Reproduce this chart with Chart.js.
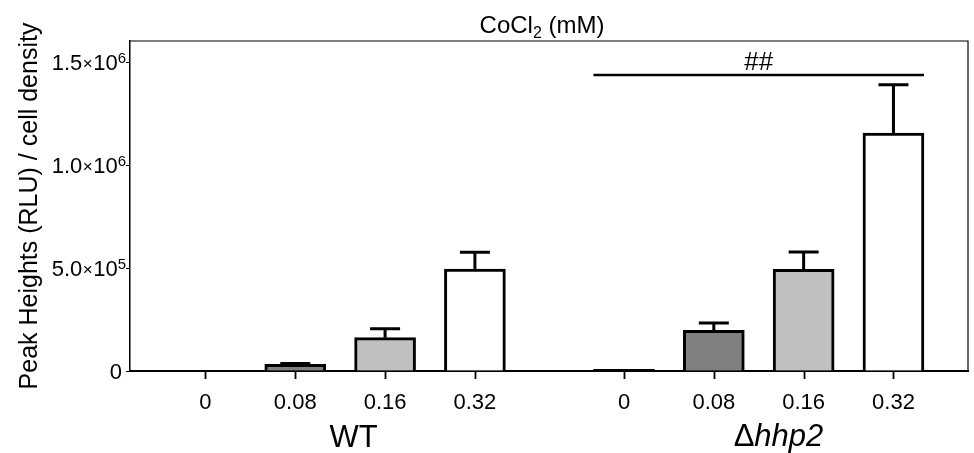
<!DOCTYPE html>
<html>
<head>
<meta charset="utf-8">
<script src="https://cdn.jsdelivr.net/npm/chart.js@4.4.0/dist/chart.umd.min.js"></script>
<style>
  html, body { margin: 0; padding: 0; background: #fff; }
  #wrap { width: 974px; height: 453px; }
</style>
</head>
<body>
<div id="wrap"><canvas id="chart" width="974" height="453"></canvas></div>
<script>
// data
const groups = ['WT', 'Δhhp2'];
const doses = ['0', '0.08', '0.16', '0.32'];
const wtMean = [0, 32000, 162000, 495000];
const wtErr = [0, 4000, 43000, 81000];
const hhp2Mean = [8000, 198000, 494000, 1155000];
const hhp2Err = [0, 35000, 84000, 235000];
const yTicks = [0, 500000, 1000000, 1500000];
const sigLabel = '##';
const sigLevel = 1437000;
const titleMain = 'CoCl';
const titleSub = '2';
const titleRest = ' (mM)';
const yTitle = 'Peak Heights (RLU) / cell density';

// styling
const FONT = "'Liberation Sans', Arial, Helvetica, sans-serif";
const doseColors = ['#000000', '#808080', '#c0c0c0', '#ffffff'];
const GROUP_STEP = 4.66;   // distance between the two groups, in bar slots
const LABEL_SHIFT = [0.15, 0.22];

const points = [];
[wtMean, hhp2Mean].forEach((arr, g) => {
    arr.forEach((v, i) => points.push({ x: g * GROUP_STEP + i, y: v }));
});
const errs = wtErr.concat(hhp2Err);
const tickPos = points.map(p => p.x);
const tickText = doses.concat(doses);
const barColors = doseColors.concat(doseColors);

const extras = {
    id: 'extras',
    afterDatasetsDraw(chart) {
        const ctx = chart.ctx;
        const y = chart.scales.y;
        const meta = chart.getDatasetMeta(0);
        ctx.save();
        ctx.strokeStyle = '#000';
        ctx.lineWidth = 3;
        meta.data.forEach((bar, i) => {
            if (!errs[i]) return;
            const top = y.getPixelForValue(points[i].y + errs[i]);
            ctx.beginPath();
            ctx.moveTo(bar.x, bar.y);
            ctx.lineTo(bar.x, top);
            ctx.moveTo(bar.x - 15, top);
            ctx.lineTo(bar.x + 15, top);
            ctx.stroke();
        });

        // significance bar over the hhp2 group
        const first = meta.data[4], last = meta.data[7];
        const x0 = first.x - first.width / 2;
        const x1 = last.x + last.width / 2;
        const sy = y.getPixelForValue(sigLevel);
        ctx.lineWidth = 2.5;
        ctx.beginPath();
        ctx.moveTo(x0, sy);
        ctx.lineTo(x1, sy);
        ctx.stroke();
        ctx.fillStyle = '#000';
        ctx.font = '26px ' + FONT;
        ctx.textAlign = 'center';
        ctx.textBaseline = 'alphabetic';
        ctx.fillText(sigLabel, (x0 + x1) / 2, sy - 5);
        ctx.restore();
    },
    afterDraw(chart) {
        const ctx = chart.ctx;
        const area = chart.chartArea;
        const x = chart.scales.x;
        const y = chart.scales.y;
        ctx.save();

        // frame top and right
        ctx.strokeStyle = '#000';
        ctx.lineWidth = 1.2;
        ctx.beginPath();
        ctx.moveTo(area.left, area.top);
        ctx.lineTo(area.right, area.top);
        ctx.lineTo(area.right, area.bottom);
        ctx.stroke();

        // x tick marks under each bar
        ctx.lineWidth = 1.8;
        ctx.beginPath();
        x.ticks.forEach(t => {
            const px = Math.round(x.getPixelForValue(t.value)) + 0.5;
            ctx.moveTo(px, area.bottom);
            ctx.lineTo(px, area.bottom + 8);
        });
        ctx.stroke();

        ctx.fillStyle = '#000';
        ctx.textBaseline = 'alphabetic';

        // y tick labels as a x 10^n
        y.ticks.forEach(t => {
            const py = y.getPixelForValue(t.value);
            let right = y.right - 4;
            if (t.value === 0) {
                ctx.font = '22px ' + FONT;
                ctx.textAlign = 'right';
                ctx.fillText('0', right - 4, py + 8);
                return;
            }
            const exp = Math.floor(Math.log10(t.value));
            const mant = (t.value / Math.pow(10, exp)).toFixed(1);
            ctx.textAlign = 'right';
            ctx.font = '15px ' + FONT;
            ctx.fillText(String(exp), right, py + 0.5);
            right -= ctx.measureText(String(exp)).width;
            ctx.font = '22px ' + FONT;
            ctx.fillText('10', right, py + 8);
            right -= ctx.measureText('10').width + 0.5;
            ctx.font = '17px ' + FONT;
            ctx.fillText('×', right, py + 6.5);
            right -= ctx.measureText('×').width + 0.5;
            ctx.font = '22px ' + FONT;
            ctx.fillText(mant, right, py + 8);
        });

        // top title with subscript
        ctx.textAlign = 'left';
        ctx.font = '24px ' + FONT;
        const w1 = ctx.measureText(titleMain).width;
        const w3 = ctx.measureText(titleRest).width;
        ctx.font = '16px ' + FONT;
        const w2 = ctx.measureText(titleSub).width;
        let tx = (area.left + area.right) / 2 - 7 - (w1 + w2 + w3) / 2;
        const tb = area.top - 8;
        ctx.font = '24px ' + FONT;
        ctx.fillText(titleMain, tx, tb);
        tx += w1;
        ctx.font = '16px ' + FONT;
        ctx.fillText(titleSub, tx, tb + 5);
        tx += w2;
        ctx.font = '24px ' + FONT;
        ctx.fillText(titleRest, tx, tb);

        // group labels
        groups.forEach((g, gi) => {
            const cx = x.getPixelForValue(gi * GROUP_STEP + 1.5 + LABEL_SHIFT[gi]);
            const by = area.bottom + 76;
            if (g.startsWith('Δ')) {
                ctx.font = '31px ' + FONT;
                const wa = ctx.measureText('Δ').width;
                ctx.font = 'italic 31px ' + FONT;
                const wb = ctx.measureText(g.slice(1)).width;
                let lx = cx - (wa + wb) / 2;
                ctx.textAlign = 'left';
                ctx.font = '31px ' + FONT;
                ctx.fillText('Δ', lx, by - 1);
                ctx.font = 'italic 31px ' + FONT;
                ctx.fillText(g.slice(1), lx + wa, by - 1);
            } else {
                ctx.textAlign = 'center';
                ctx.font = '31px ' + FONT;
                ctx.fillText(g, cx, by);
            }
        });
        ctx.restore();
    }
};

new Chart(document.getElementById('chart'), {
    type: 'bar',
    data: {
        datasets: [{
            data: points,
            backgroundColor: barColors,
            borderColor: '#000',
            borderWidth: 3,
            borderSkipped: 'start',
            barThickness: 61
        }]
    },
    options: {
        responsive: false,
        animation: false,
        layout: { padding: { top: 41, right: 6, left: 0, bottom: 0 } },
        plugins: {
            legend: { display: false },
            tooltip: { enabled: false },
            title: { display: false }
        },
        scales: {
            x: {
                type: 'linear',
                min: -0.84,
                max: 8.49,
                offset: false,
                afterBuildTicks: s => { s.ticks = tickPos.map(v => ({ value: v })); },
                afterFit: s => { s.height = 82; },
                grid: { display: false },
                border: { display: true, color: '#000', width: 2 },
                ticks: {
                    autoSkip: false, maxRotation: 0, padding: 11, color: '#000',
                    font: { family: FONT, size: 22 },
                    callback: (v, i) => tickText[i]
                }
            },
            y: {
                min: 0,
                max: 1602000,
                afterBuildTicks: s => { s.ticks = yTicks.map(v => ({ value: v })); },
                afterFit: s => { s.width = 130; },
                grid: { drawOnChartArea: false, drawTicks: true, tickLength: 4, color: '#000', lineWidth: 1 },
                border: { color: '#000', width: 1.5 },
                ticks: { display: false },
                title: {
                    display: true, text: yTitle, color: '#000',
                    font: { family: FONT, size: 25 },
                    padding: { top: 15, bottom: 0 }
                }
            }
        }
    },
    plugins: [extras]
});
</script>
</body>
</html>
